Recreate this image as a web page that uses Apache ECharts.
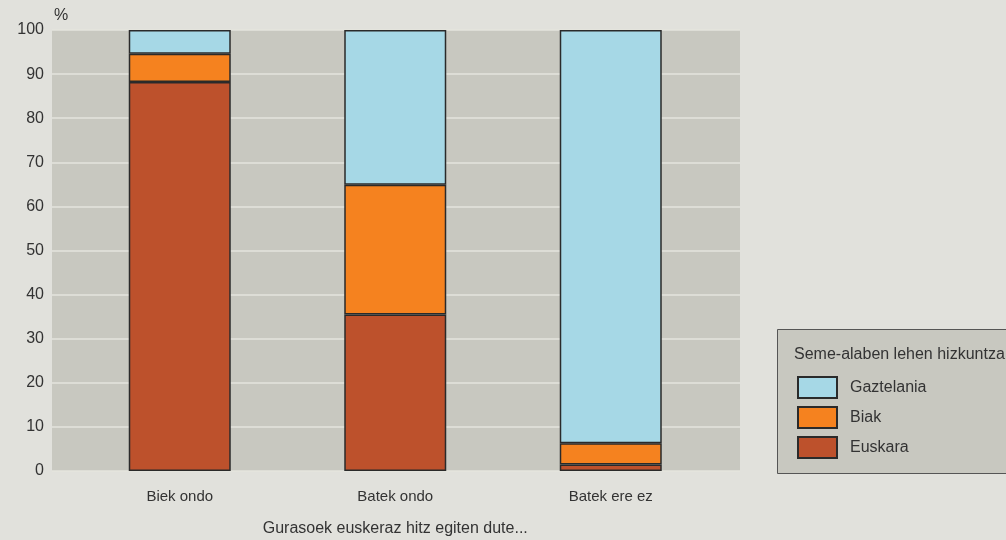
<!DOCTYPE html>
<html><head><meta charset="utf-8">
<script src="https://cdn.jsdelivr.net/npm/echarts@6/dist/echarts.min.js"></script>
<style>html,body{margin:0;padding:0;background:#e1e1dc}#c{width:1006px;height:540px}</style>
</head><body><div id="c"></div>
<script>
const categories = ['Biek ondo', 'Batek ondo', 'Batek ere ez'];
const euskara = [88.2, 35.5, 1.5];
const biak = [6.4, 29.4, 4.8];
const gaztelania = [5.4, 35.1, 93.7];
const yTicks = [0, 10, 20, 30, 40, 50, 60, 70, 80, 90, 100];
const legendTitle = 'Seme-alaben lehen hizkuntza';
const xName = 'Gurasoek euskeraz hitz egiten dute...';

const FONT = '"Liberation Sans", sans-serif';
const chart = echarts.init(document.getElementById('c'), null, {renderer: 'canvas'});
const border = {borderColor: '#2a2a2a', borderWidth: 1.5};
chart.setOption({
  backgroundColor: '#e1e1dc',
  textStyle: {fontFamily: FONT},
  animation: false,
  grid: [
    {left: 52, width: 688, top: 30, bottom: 69, show: true, backgroundColor: '#c8c8c0', borderWidth: 0, outerBoundsMode: 'none'},
    {left: 72, width: 646.5, top: 30, bottom: 69, outerBoundsMode: 'none'}
  ],
  legend: {
    orient: 'vertical', left: 797, top: 376, padding: 0, itemWidth: 39, itemHeight: 21, itemGap: 7,
    icon: 'rect',
    data: ['Gaztelania', 'Biak', 'Euskara'],
    textStyle: {fontFamily: FONT, fontSize: 16, lineHeight: 21, color: '#333', padding: [0, 0, 0, 8]}
  },
  graphic: [
    {type: 'rect', left: 777, top: 329, shape: {width: 240, height: 144},
      style: {fill: '#c8c8c0', stroke: '#555', lineWidth: 1}, z: -1},
    {type: 'text', left: 794, top: 347, style: {text: legendTitle, font: '16px ' + FONT, fill: '#333'}}
  ],
  xAxis: [
    {gridIndex: 0, type: 'value', min: 0, max: 1, show: false},
    {gridIndex: 1, type: 'category', data: categories,
      axisLine: {show: false}, axisTick: {show: false},
      axisLabel: {fontSize: 15, color: '#333', margin: 18},
      name: xName, nameLocation: 'middle', nameGap: 50,
      nameTextStyle: {fontSize: 16, color: '#333'}}
  ],
  yAxis: [
    {gridIndex: 0, type: 'value', min: 0, max: 100, interval: 10,
      axisLine: {show: false}, axisTick: {show: false},
      axisLabel: {fontSize: 16, color: '#333', margin: 8,
        formatter: v => yTicks.includes(v) ? String(v) : ''},
      splitLine: {lineStyle: {color: '#e4e4de', width: 1.5}},
      name: '%', nameLocation: 'end', nameGap: 6,
      nameTextStyle: {fontSize: 16, color: '#333', align: 'left', padding: [0, 0, 0, 2]}},
    {gridIndex: 1, type: 'value', min: 0, max: 100, show: false, splitLine: {show: false}}
  ],
  series: [
    {name: 'Euskara', type: 'bar', stack: 's', xAxisIndex: 1, yAxisIndex: 1, barWidth: 102,
      data: euskara, itemStyle: Object.assign({color: '#bd512c'}, border)},
    {name: 'Biak', type: 'bar', stack: 's', xAxisIndex: 1, yAxisIndex: 1, barWidth: 102,
      data: biak, itemStyle: Object.assign({color: '#f5821f'}, border)},
    {name: 'Gaztelania', type: 'bar', stack: 's', xAxisIndex: 1, yAxisIndex: 1, barWidth: 102,
      data: gaztelania, itemStyle: Object.assign({color: '#a6d8e6'}, border)}
  ]
});
</script></body></html>
